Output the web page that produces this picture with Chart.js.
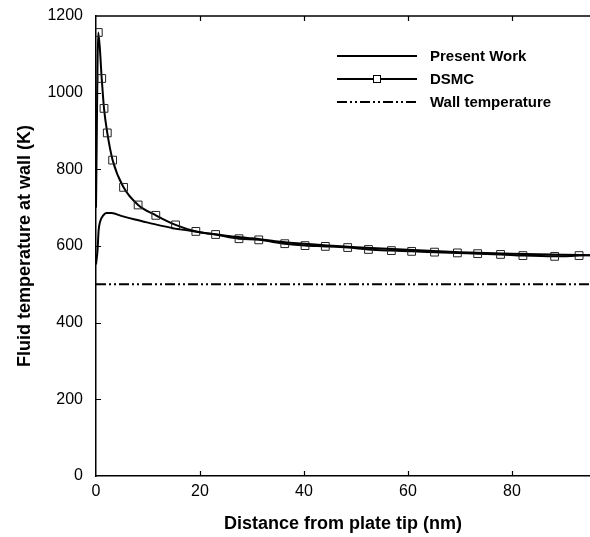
<!DOCTYPE html>
<html>
<head>
<meta charset="utf-8">
<script src="https://cdn.jsdelivr.net/npm/chart.js@4/dist/chart.umd.min.js"></script>
<style>
html,body{margin:0;padding:0;background:#fff;}
#wrap{width:590px;height:537px;position:relative;}
</style>
</head>
<body>
<div id="wrap"><canvas id="c" width="590" height="537"></canvas></div>
<script>
// ---- data ----
const presentX = [0, 0.3, 0.5, 0.8, 1.4, 2, 3, 5, 7.5, 10, 15, 20, 25, 30, 35, 40, 50, 60, 70, 80, 90, 95];
const presentY = [552, 590, 640, 664, 680, 686, 686, 678, 669, 661, 646, 636, 627, 620, 612, 606, 597, 590, 584, 580, 577, 576];

const dsmcX = [0, 0.44, 1.1, 1.54, 2.17, 3.2, 5.3, 8.1, 11.5, 15.3, 19.2, 23.0, 27.5, 31.3, 36.3, 40.2, 44.1, 48.4, 52.4, 56.8, 60.7, 65.1, 69.5, 73.4, 77.8, 82.1, 88.2, 92.9, 95];
const dsmcY = [700, 1157, 1037, 959, 895, 824, 753, 707, 680, 655, 638, 630, 619, 616, 606, 601, 599, 596, 591, 588, 586, 584, 582, 580, 578, 575, 573, 575, 576];
// markers only where DSMC samples exist (first and last entries are line ends)
const dsmcMarker = [false, true, true, true, true, true, true, true, true, true, true, true, true, true, true, true, true, true, true, true, true, true, true, true, true, true, true, true, false];

const wallX = [0, 95];
const wallY = [500, 500];

const xTicks = [0, 20, 40, 60, 80];
const yTicks = [0, 200, 400, 600, 800, 1000, 1200];

const seriesNames = ['Present Work', 'DSMC', 'Wall temperature'];

const toPts = (xs, ys) => xs.map((x, i) => ({x: x, y: ys[i]}));
const FONT = "'Liberation Sans', Arial, sans-serif";
const WALL_DASH = [10, 3, 2, 3, 2, 3];

const tickPlugin = {
  id: 'innerTicks',
  afterDraw(chart) {
    const ctx = chart.ctx;
    const xs = chart.scales.x, ys = chart.scales.y;
    const a = chart.chartArea;
    ctx.save();
    ctx.strokeStyle = '#000';
    ctx.lineWidth = 1.2;
    ctx.beginPath();
    xTicks.forEach(v => {
      if (v === 0) return;
      const px = Math.round(xs.getPixelForValue(v)) + 0.5;
      ctx.moveTo(px, a.bottom); ctx.lineTo(px, a.bottom - 5);
      ctx.moveTo(px, a.top); ctx.lineTo(px, a.top + 5);
    });
    yTicks.forEach(v => {
      if (v === 0 || v === 1200) return;
      const py = Math.round(ys.getPixelForValue(v)) + 0.5;
      ctx.moveTo(a.left, py); ctx.lineTo(a.left + 5, py);
    });
    ctx.stroke();
    // top frame line
    ctx.lineWidth = 1.5;
    ctx.beginPath();
    ctx.moveTo(a.left, a.top); ctx.lineTo(a.right, a.top);
    ctx.stroke();
    ctx.restore();
  }
};

const legendPlugin = {
  id: 'customLegend',
  afterDraw(chart) {
    const ctx = chart.ctx;
    const rows = [56, 79, 102];
    const x0 = 337, x1 = 417, tx = 430;
    ctx.save();
    ctx.strokeStyle = '#000';
    ctx.fillStyle = '#000';
    ctx.font = "bold 15px " + FONT;
    ctx.textBaseline = 'middle';
    ctx.textAlign = 'left';
    rows.forEach((y, i) => {
      ctx.beginPath();
      ctx.lineWidth = 2;
      ctx.setLineDash(i === 2 ? WALL_DASH : []);
      ctx.moveTo(x0, y); ctx.lineTo(x1, y);
      ctx.stroke();
      ctx.setLineDash([]);
      if (i === 1) {
        ctx.lineWidth = 1;
        ctx.fillStyle = '#fff';
        ctx.fillRect(377 - 4, y - 4, 8, 8);
        ctx.strokeRect(377 - 3.5, y - 3.5, 7, 7);
        ctx.fillStyle = '#000';
      }
      ctx.fillText(seriesNames[i], tx, y + 1);
    });
    ctx.restore();
  }
};

new Chart(document.getElementById('c'), {
  type: 'line',
  data: {
    datasets: [
      {
        label: seriesNames[0],
        data: toPts(presentX, presentY),
        borderColor: '#000',
        borderWidth: 2,
        pointRadius: 0,
        cubicInterpolationMode: 'monotone',
        fill: false
      },
      {
        label: seriesNames[1],
        data: toPts(dsmcX, dsmcY),
        borderColor: '#000',
        borderWidth: 2,
        pointStyle: 'rect',
        pointRadius: ctx => dsmcMarker[ctx.dataIndex] ? 5.5 : 0,
        pointBorderWidth: 1,
        pointBorderColor: '#222',
        pointBackgroundColor: 'rgba(255,255,255,0)',
        cubicInterpolationMode: 'monotone',
        fill: false
      },
      {
        label: seriesNames[2],
        data: toPts(wallX, wallY),
        borderColor: '#000',
        borderWidth: 2,
        borderDash: WALL_DASH,
        pointRadius: 0,
        tension: 0,
        fill: false
      }
    ]
  },
  options: {
    responsive: false,
    animation: false,
    events: [],
    layout: {padding: {top: 16, right: 0, left: 0, bottom: 0}},
    plugins: {legend: {display: false}, tooltip: {enabled: false}},
    scales: {
      x: {
        type: 'linear',
        min: 0, max: 95,
        afterFit: s => { s.height = 61; s.paddingLeft = 0; s.paddingRight = 0; },
        afterBuildTicks: s => { s.ticks = xTicks.map(v => ({value: v})); },
        grid: {display: false, drawTicks: false},
        border: {display: true, color: '#000', width: 1.5},
        ticks: {color: '#000', font: {family: FONT, size: 16}, padding: 6, maxRotation: 0,
                callback: v => String(v)},
        title: {display: true, text: 'Distance from plate tip (nm)', color: '#000',
                font: {family: FONT, size: 18, weight: 'bold'}, padding: {top: 2, bottom: 2}}
      },
      y: {
        type: 'linear',
        min: 0, max: 1200,
        afterFit: s => { s.width = 96; s.paddingTop = 0; s.paddingBottom = 0; },
        afterBuildTicks: s => { s.ticks = yTicks.map(v => ({value: v})); },
        grid: {display: false, drawTicks: false},
        border: {display: true, color: '#000', width: 1.5},
        ticks: {color: '#000', font: {family: FONT, size: 16}, padding: 13,
                callback: v => String(v)},
        title: {display: true, text: 'Fluid temperature at wall (K)', color: '#000',
                font: {family: FONT, size: 18, weight: 'bold'}, padding: {top: 14, bottom: 0}}
      }
    }
  },
  plugins: [tickPlugin, legendPlugin]
});
</script>
</body>
</html>
